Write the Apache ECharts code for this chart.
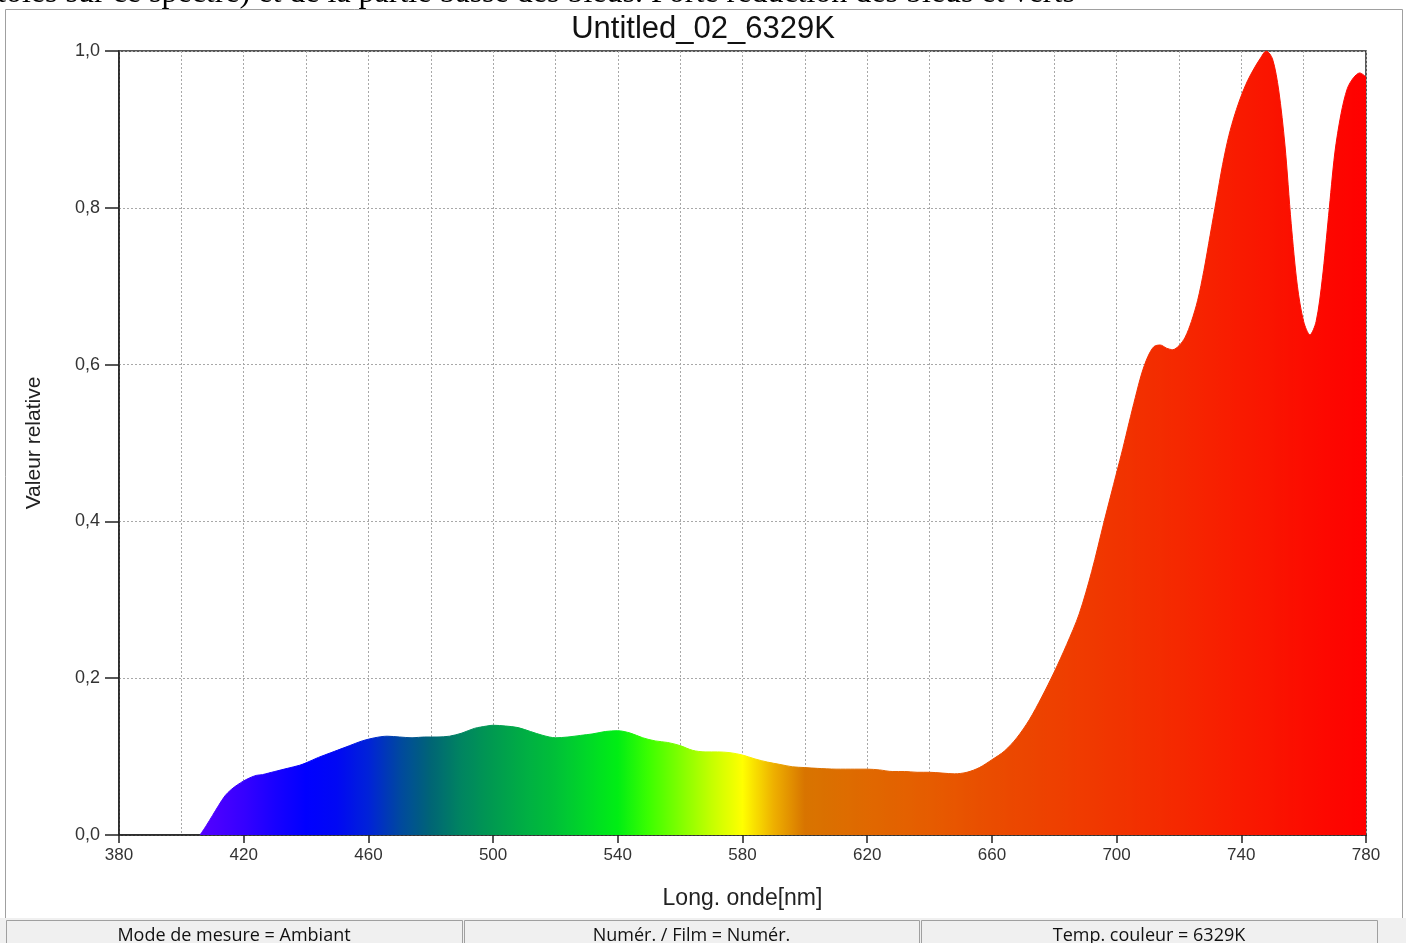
<!DOCTYPE html>
<html>
<head>
<meta charset="utf-8">
<script src="https://cdn.jsdelivr.net/npm/echarts@6/dist/echarts.min.js"></script>
<style>
html,body{margin:0;padding:0;background:#fff;}
#chart{width:1406px;height:943px;}
</style>
</head>
<body>
<div id="chart"></div>
<script>
// ---- data ----
const titleText = 'Untitled_02_6329K';
const captionText = 'toles sur ce spectre) et de la partie basse des bleus. Forte réduction des bleus et verts';
const xAxisName = 'Long. onde[nm]';
const yAxisName = 'Valeur relative';
const statusTexts = ['Mode de mesure = Ambiant', 'Numér. / Film = Numér.', 'Temp. couleur = 6329K'];

const wavelengths = [406,408,410,412,414,416,418,420,422,424,426,428,430,434,438,440,444,448,450,454,458,462,466,470,474,478,482,486,490,494,498,500,504,508,512,516,520,524,528,532,536,540,544,548,552,556,560,564,568,572,576,580,584,588,592,596,600,604,610,616,620,624,628,632,636,640,644,648,652,656,660,664,668,672,676,680,684,688,692,696,700,702,704,706,708,710,712,714,716,718,720,722,724,726,728,730,732,734,736,738,740,742,744,746,748,750,752,754,756,758,760,762,764,766,768,770,772,774,776,778,780];
const intensity = [0,0.012,0.025,0.038,0.05,0.058,0.064,0.069,0.073,0.076,0.077,0.079,0.081,0.085,0.089,0.092,0.099,0.105,0.108,0.114,0.12,0.124,0.126,0.125,0.124,0.125,0.125,0.126,0.13,0.136,0.139,0.14,0.139,0.137,0.132,0.127,0.124,0.125,0.127,0.129,0.132,0.133,0.13,0.124,0.12,0.118,0.114,0.108,0.106,0.106,0.105,0.102,0.097,0.093,0.09,0.087,0.086,0.085,0.084,0.084,0.084,0.083,0.081,0.081,0.08,0.08,0.079,0.078,0.08,0.086,0.096,0.107,0.124,0.147,0.176,0.208,0.243,0.282,0.336,0.4,0.462,0.493,0.526,0.558,0.588,0.61,0.623,0.625,0.621,0.619,0.624,0.635,0.655,0.682,0.72,0.765,0.81,0.855,0.892,0.92,0.943,0.962,0.977,0.99,1.0,0.99,0.95,0.88,0.78,0.70,0.655,0.638,0.655,0.71,0.79,0.87,0.92,0.952,0.966,0.972,0.967];

// spectral colours, one every 10 nm from 380 to 780 nm
const spectrumColors = ['#7000ff','#6600ff','#5c00ff','#4c00ff','#3600ff','#1800ff','#0000ff','#0008f4','#0022d8','#0048a0','#006575','#008560','#009a50','#00ae44','#00c038','#00d828','#00ee14','#3cff00','#80ff00','#c4ff00','#ffff00','#eeb000','#d87400','#dc6e00','#e06800','#e36200','#e65c00','#e85400','#ea4c00','#ec4600','#ee4000','#f03a00','#f13400','#f32e00','#f52800','#f72100','#f91a00','#fa1400','#fc0c00','#fd0600','#ff0000'];

const seriesData = wavelengths.map((w, i) => [w, intensity[i]]);

const chart = echarts.init(document.getElementById('chart'), null, {renderer: 'canvas'});

const gridGray = '#a8a8a8';
const panelGraphics = [];
const panels = [[6, 456], [464, 455], [921, 456]];
panels.forEach((p, i) => {
  panelGraphics.push({
    type: 'rect', shape: {x: p[0] + 0.5, y: 920.5, width: p[1], height: 30},
    style: {fill: '#f0f0f0', stroke: '#a0a0a0', lineWidth: 1}, z: 10
  });
  panelGraphics.push({
    type: 'text', x: p[0] + p[1] / 2, y: 936,
    style: {text: statusTexts[i], fill: '#111', font: '18px "Open Sans", "Noto Sans", sans-serif', textAlign: 'center', textVerticalAlign: 'middle'}, z: 11
  });
});

chart.setOption({
  backgroundColor: '#fff',
  animation: false,
  title: {
    text: titleText, left: 'center', top: 9,
    textStyle: {fontFamily: 'Liberation Sans, Arial, sans-serif', fontSize: 31, fontWeight: 'normal', color: '#111'}
  },
  grid: {left: 119, right: 40, top: 51, bottom: 108, show: true, borderColor: '#222', borderWidth: 1.5, backgroundColor: 'transparent'},
  xAxis: {
    type: 'value', min: 380, max: 780, interval: 40,
    name: xAxisName, nameLocation: 'middle', nameGap: 52,
    nameTextStyle: {fontFamily: 'Liberation Sans, Arial, sans-serif', fontSize: 23, color: '#222'},
    axisLine: {show: true, lineStyle: {color: '#222', width: 1.5}},
    axisTick: {show: true, length: 8, lineStyle: {color: '#222', width: 1.5}},
    axisLabel: {fontFamily: 'Liberation Sans, Arial, sans-serif', fontSize: 17, color: '#333', margin: 12},
    splitLine: {show: true, lineStyle: {color: gridGray, type: [2, 2], width: 1}},
    minorTick: {show: false, splitNumber: 2},
    minorSplitLine: {show: true, lineStyle: {color: gridGray, type: [2, 2], width: 1}}
  },
  yAxis: {
    type: 'value', min: 0, max: 1, interval: 0.2,
    name: yAxisName, nameLocation: 'middle', nameGap: 74, nameRotate: 90,
    nameTextStyle: {fontFamily: 'Liberation Sans, Arial, sans-serif', fontSize: 21, color: '#222'},
    axisLine: {show: true, lineStyle: {color: '#222', width: 1.5}},
    axisTick: {show: true, length: 14, lineStyle: {color: '#222', width: 1.5}},
    axisLabel: {fontFamily: 'Liberation Sans, Arial, sans-serif', fontSize: 18, color: '#333', margin: 19,
      formatter: v => v.toFixed(1).replace('.', ',')},
    splitLine: {show: true, lineStyle: {color: gridGray, type: [2, 2], width: 1}}
  },
  visualMap: {
    show: false, type: 'continuous', dimension: 0, seriesIndex: 0,
    min: 380, max: 780, inRange: {color: spectrumColors}
  },
  series: [{
    type: 'line', data: seriesData, smooth: 0.3, symbol: 'none',
    lineStyle: {width: 1},
    areaStyle: {opacity: 1},
    z: 2
  }],
  graphic: [
    {type: 'rect', shape: {x: 5.5, y: 9.5, width: 1397, height: 940}, style: {fill: 'transparent', stroke: '#a0a0a0', lineWidth: 1}, z: 5},
    {type: 'rect', shape: {x: 0, y: 918, width: 1406, height: 25}, style: {fill: '#f0f0f0'}, z: 9},
    {type: 'text', x: -3, y: 10, style: {text: captionText, fill: '#000', font: '32px "Liberation Serif", "DejaVu Serif", serif', textAlign: 'left', textVerticalAlign: 'bottom'}, z: 12}
  ].concat(panelGraphics)
});
</script>
</body>
</html>
